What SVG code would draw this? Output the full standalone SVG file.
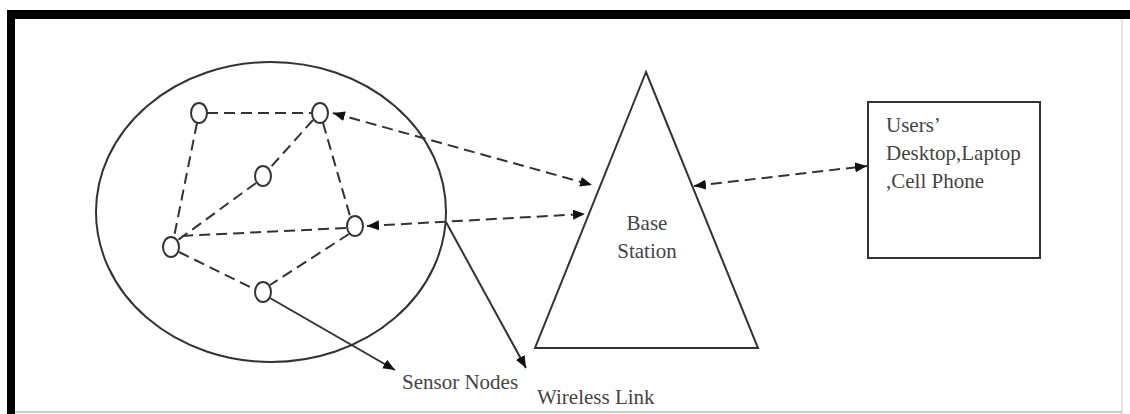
<svg xmlns="http://www.w3.org/2000/svg" width="1130" height="414" viewBox="0 0 1130 414">
<style>
.ln{stroke:#333;stroke-width:2;fill:none}
.d{stroke-dasharray:11 6}
.sn{stroke:#333;stroke-width:2;fill:#fff}
.t{font-family:"Liberation Serif","Times New Roman",serif;font-size:21px;fill:#444}
</style>
<defs>
<marker id="ah" viewBox="0 0 12 10" refX="12" refY="5" markerWidth="12" markerHeight="10" markerUnits="userSpaceOnUse" orient="auto-start-reverse">
<path d="M0,0 L12,5 L0,10 z" fill="#111"/>
</marker>
</defs>
<rect x="0" y="0" width="1130" height="414" fill="#fff"/>
<g id="frame">
<rect x="7" y="10" width="1123" height="9" fill="#000"/>
<rect x="7" y="10" width="8" height="404" fill="#000"/>
<line x1="1122" y1="19" x2="1122" y2="414" stroke="#ccc" stroke-width="1"/>
<line x1="15" y1="412" x2="1122" y2="412" stroke="#bbb" stroke-width="1.5"/>
</g>
<g id="network">
<ellipse cx="271" cy="212" rx="175" ry="150" class="ln"/>
</g>
<g id="connectors">
<line x1="207" y1="113" x2="311" y2="113" class="ln d"/>
<line x1="197" y1="123" x2="174" y2="237" class="ln d"/>
<line x1="313" y1="120" x2="270" y2="168" class="ln d"/>
<line x1="256" y1="183" x2="178" y2="240" class="ln d"/>
<line x1="323" y1="123" x2="350" y2="216" class="ln d"/>
<line x1="346" y1="228" x2="180" y2="236" class="ln d"/>
<line x1="179" y1="252" x2="254" y2="289" class="ln d"/>
<line x1="349" y1="234" x2="270" y2="285" class="ln d"/>
<line x1="333" y1="113" x2="592" y2="185" class="ln d" marker-start="url(#ah)" marker-end="url(#ah)"/>
<line x1="367" y1="226" x2="585" y2="214" class="ln d" marker-start="url(#ah)" marker-end="url(#ah)"/>
<line x1="694" y1="186" x2="867" y2="166" class="ln d" marker-start="url(#ah)" marker-end="url(#ah)"/>
<line x1="270" y1="298" x2="395" y2="370" class="ln" marker-end="url(#ah)"/>
<line x1="446" y1="222" x2="526" y2="368" class="ln" marker-end="url(#ah)"/>
</g>
<g id="node-a"><ellipse cx="199" cy="113" rx="8" ry="10" class="sn"/></g>
<g id="node-b"><ellipse cx="320" cy="113" rx="8" ry="10" class="sn"/></g>
<g id="node-c"><ellipse cx="263" cy="176" rx="8" ry="10" class="sn"/></g>
<g id="node-d"><ellipse cx="355" cy="226" rx="8" ry="10" class="sn"/></g>
<g id="node-e"><ellipse cx="171" cy="247" rx="8" ry="10" class="sn"/></g>
<g id="node-f"><ellipse cx="263" cy="292" rx="8" ry="10" class="sn"/></g>
<g id="base-station">
<polygon points="646,72 535,348 758,348" class="ln"/>
<text class="t" x="647" y="230" text-anchor="middle">Base</text>
<text class="t" x="647" y="258" text-anchor="middle">Station</text>
</g>
<g id="users">
<rect x="868" y="102" width="172" height="156" class="ln"/>
<text class="t" x="886" y="132">Users’</text>
<text class="t" x="886" y="160">Desktop,Laptop</text>
<text class="t" x="886" y="188">,Cell Phone</text>
</g>
<g id="labels">
<text class="t" x="402" y="389">Sensor Nodes</text>
<text class="t" x="537" y="404">Wireless Link</text>
</g>
</svg>
